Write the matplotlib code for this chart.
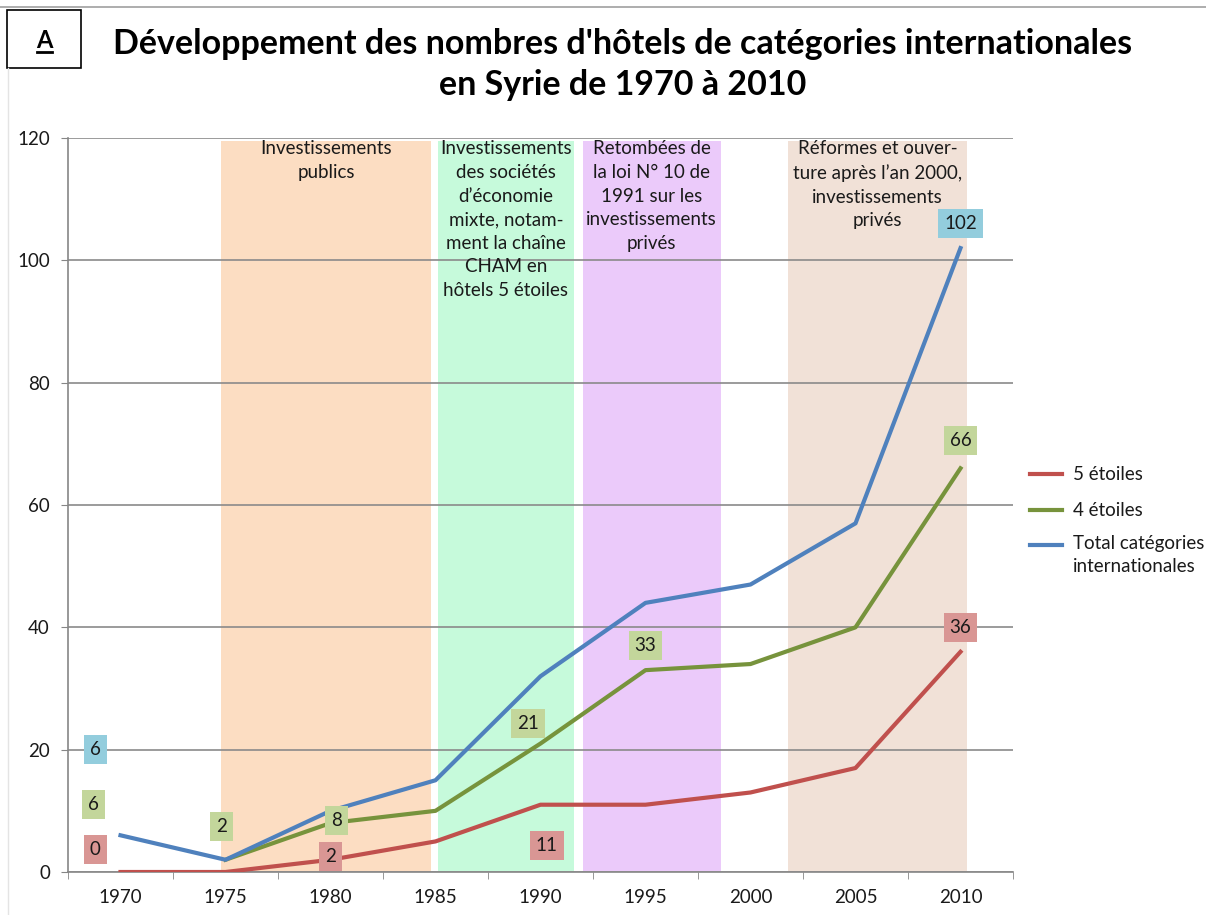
import numpy as np
import matplotlib.pyplot as plt
from matplotlib.lines import Line2D

plt.rcParams['font.family'] = ['Lato', 'DejaVu Sans']

years = [1970, 1975, 1980, 1985, 1990, 1995, 2000, 2005, 2010]
cinq_etoiles = [0, 0, 2, 5, 11, 11, 13, 17, 36]
quatre_etoiles = [np.nan, 2, 8, 10, 21, 33, 34, 40, 66]
total = [6, 2, 10, 15, 32, 44, 47, 57, 102]

series_names = ['5 étoiles', '4 étoiles', 'Total catégories\ninternationales']
series_colors = ['#C0504D', '#77933C', '#4F81BD']

periods = [
    (1974.8, 1984.8, '#FCDDC2', "Investissements\npublics"),
    (1985.1, 1991.6, '#C6FADB', "Investissements\ndes sociétés\nd\u2019économie\nmixte, notam-\nment la chaîne\nCHAM en\nhôtels 5 étoiles"),
    (1992.0, 1998.6, '#EBCAFA', "Retombées de\nla loi N° 10 de\n1991 sur les\ninvestissements\nprivés"),
    (2001.8, 2010.3, '#F1E1D7', "Réformes et ouver-\nture après l\u2019an 2000,\ninvestissements\nprivés"),
]

# value labels: (text, x, y, box colour)
labels = [
    ('6', 1968.8, 20, '#93CDDD'), ('6', 1968.7, 11, '#C3D69B'), ('0', 1968.8, 3.7, '#D99694'),
    ('2', 1974.8, 7.5, '#C3D69B'), ('8', 1980.3, 8.5, '#C3D69B'), ('2', 1980.0, 2.6, '#D99694'),
    ('21', 1989.4, 24.2, '#C3D69B'), ('11', 1990.3, 4.4, '#D99694'), ('33', 1995.0, 37.1, '#C3D69B'),
    ('102', 2010, 106, '#93CDDD'), ('66', 2010, 70.5, '#C3D69B'), ('36', 2010, 39.9, '#D99694'),
]

fig = plt.figure(figsize=(12.06, 9.15), dpi=100)
ax = fig.add_axes([68 / 1206, 1 - 872 / 915, (1013 - 68) / 1206, (872 - 138) / 915])

for x0, x1, col, txt in periods:
    ax.axvspan(x0, x1, ymin=0, ymax=119.5 / 120, color=col, zorder=0, lw=0)
    ax.text((x0 + x1) / 2, 119.6, txt, ha='center', va='top', fontsize=13.5,
            color='#1a1a1a', linespacing=1.47, zorder=3)

for vals, name, col in zip([cinq_etoiles, quatre_etoiles, total], series_names, series_colors):
    ax.plot(years, vals, color=col, lw=3, label=name, zorder=4, solid_joinstyle='round')

for txt, x, y, col in labels:
    ax.text(x, y, txt, ha='center', va='center', fontsize=13.5, color='#1a1a1a', zorder=5,
            bbox=dict(boxstyle='square,pad=0.32', fc=col, ec='none'))

ax.set_xlim(1967.5, 2012.5)
ax.set_ylim(0, 120)
ax.set_yticks(range(0, 121, 20))
ax.set_xticks(years)
ax.set_xticks(np.arange(1967.5, 2013, 5), minor=True)
ax.tick_params(axis='x', which='major', length=0, pad=12, labelsize=13.5)
ax.tick_params(axis='x', which='minor', length=5, color='#868686')
ax.tick_params(axis='y', length=5, color='#868686', labelsize=13.5, pad=8)
ax.yaxis.grid(True, color='#8a8a8a', lw=1.2, zorder=1)
ax.set_axisbelow(False)
for s in ['top', 'right']:
    ax.spines[s].set_visible(False)
for s in ['left', 'bottom']:
    ax.spines[s].set_color('#868686')
    ax.spines[s].set_linewidth(1.2)
for t in ax.get_xticklabels() + ax.get_yticklabels():
    t.set_color('#1a1a1a')

# legend drawn by hand so the handle sits on the first line of a two-line label
leg_rows = [(474, 474), (510, 510), (545, 555)]
for (yl, yt), name, col in zip(leg_rows, series_names, series_colors):
    fig.add_artist(Line2D([1030 / 1206, 1062 / 1206], [1 - yl / 915] * 2, color=col, lw=3))
    fig.text(1073 / 1206, 1 - yt / 915, name, ha='left', va='center', fontsize=13.5,
             linespacing=1.47, color='#1a1a1a')

fig.text(623 / 1206, 1 - 44 / 915, "Développement des nombres d'hôtels de catégories internationales",
         ha='center', va='center', fontsize=24.5, fontweight='bold')
fig.text(623 / 1206, 1 - 85 / 915, "en Syrie de 1970 à 2010",
         ha='center', va='center', fontsize=24.5, fontweight='bold')

# box "A" and frame lines
fig.add_artist(plt.Rectangle((7 / 1206, 1 - 68 / 915), 74 / 1206, 58 / 915, fill=False,
                             ec='black', lw=1.2, transform=fig.transFigure))
fig.text(44 / 1206, 1 - 40 / 915, 'A', ha='center', va='center', fontsize=17, fontweight='bold')
fig.add_artist(Line2D([37 / 1206, 52 / 1206], [1 - 52 / 915, 1 - 52 / 915], color='black', lw=2))
fig.add_artist(Line2D([0, 1], [1 - 7 / 915, 1 - 7 / 915], color='#a0a0a0', lw=1.2))
fig.add_artist(Line2D([8 / 1206, 8 / 1206], [0, 1 - 68 / 915], color='#e4e4e4', lw=1))

fig.savefig('out.png', dpi=100)
